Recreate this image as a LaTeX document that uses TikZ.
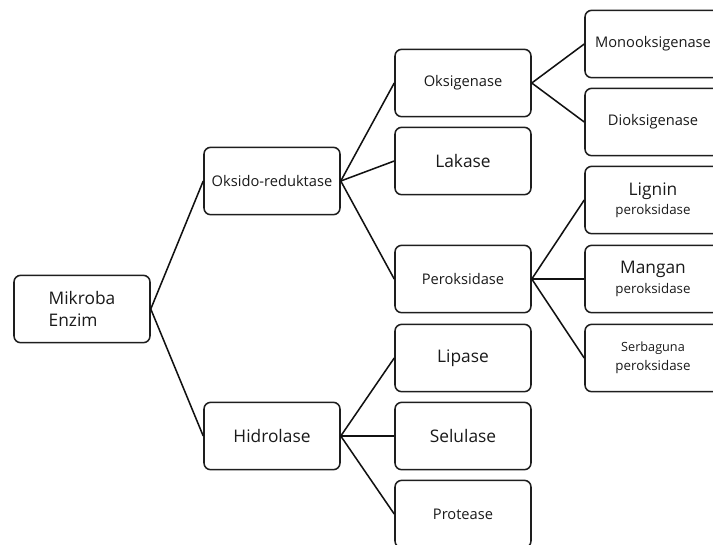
\documentclass[tikz,border=0pt]{standalone}
\usepackage{fontspec}
\setmainfont{Open Sans}
\definecolor{boxedge}{HTML}{1E1E1E}
\definecolor{linkcolor}{HTML}{111111}
\definecolor{labeltext}{HTML}{1A1A1A}
\tikzset{
  ebox/.style={draw=boxedge, fill=white, rounded corners=5pt, line width=1.15pt, minimum width=102pt, minimum height=50.5pt, inner sep=0pt, align=center, text=labeltext},
  bigtext/.style={font=\fontsize{13}{16}\selectfont},
  midtext/.style={font=\fontsize{11}{13}\selectfont},
  twoline/.style={font=\fontsize{13}{14.5}\selectfont},
  link/.style={draw=linkcolor, line width=1.15pt}
}
\newcommand{\subline}[1]{{\fontsize{10}{12}\selectfont #1}}

\begin{document}
\begin{tikzpicture}[x=0.75pt,y=-0.75pt]
  \useasboundingbox (0,0) rectangle (713,544);
  \clip (0,0) rectangle (713,544);

  % root
  \node[ebox, bigtext, align=left] (mikroba) at (82,309) {Mikroba\\Enzim};

  % second level
  \node[ebox, midtext] (oksido) at (272,181) {Oksido-reduktase};
  \node[ebox, bigtext] (hidrolase) at (272,436) {Hidrolase};

  % third level
  \node[ebox, midtext] (oksigenase) at (463,83) {Oksigenase};
  \node[ebox, bigtext] (lakase) at (463,161) {Lakase};
  \node[ebox, midtext] (peroksidase) at (463,279) {Peroksidase};
  \node[ebox, bigtext] (lipase) at (463,358) {Lipase};
  \node[ebox, bigtext] (selulase) at (463,436) {Selulase};
  \node[ebox, midtext] (protease) at (463,514) {Protease};

  % fourth level
  \node[ebox, midtext] (mono) at (653,44) {Monooksigenase};
  \node[ebox, midtext] (dio) at (653,122) {Dioksigenase};
  \node[ebox, twoline] (lignin) at (653,200) {Lignin\\\subline{peroksidase}};
  \node[ebox, twoline] (mangan) at (653,279) {Mangan\\\subline{peroksidase}};
  \node[ebox, font=\fontsize{9.5}{14.5}\selectfont] (serbaguna) at (653,358) {Serbaguna\\\subline{peroksidase}};

  % connectors
  \draw[link] (mikroba.east) -- (oksido.west);
  \draw[link] (mikroba.east) -- (hidrolase.west);
  \draw[link] (oksido.east) -- (oksigenase.west);
  \draw[link] (oksido.east) -- (lakase.west);
  \draw[link] (oksido.east) -- (peroksidase.west);
  \draw[link] (hidrolase.east) -- (lipase.west);
  \draw[link] (hidrolase.east) -- (selulase.west);
  \draw[link] (hidrolase.east) -- (protease.west);
  \draw[link] (oksigenase.east) -- (mono.west);
  \draw[link] (oksigenase.east) -- (dio.west);
  \draw[link] (peroksidase.east) -- (lignin.west);
  \draw[link] (peroksidase.east) -- (mangan.west);
  \draw[link] (peroksidase.east) -- (serbaguna.west);
\end{tikzpicture}
\end{document}
